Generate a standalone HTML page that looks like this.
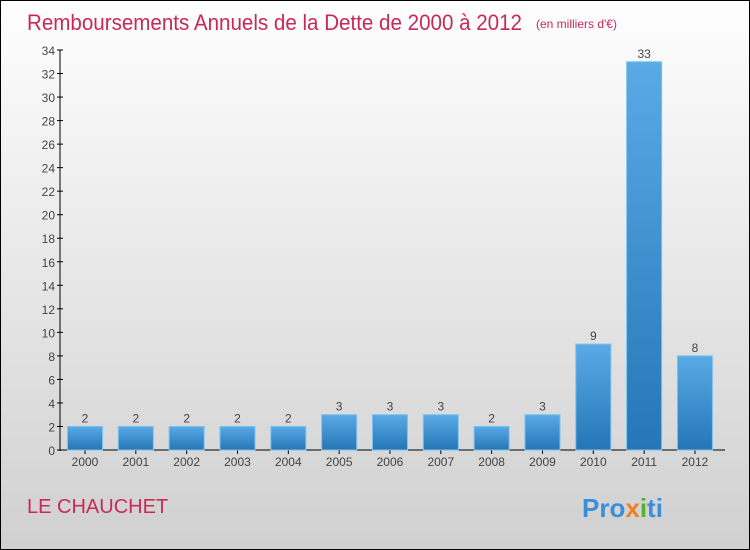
<!DOCTYPE html>
<html><head><meta charset="utf-8"><style>
body{margin:0;width:750px;height:550px;overflow:hidden;font-family:"Liberation Sans",sans-serif}
#wrap{position:absolute;left:0;top:0;width:748px;height:548px;border:1px solid #000;background:linear-gradient(#fefefe,#d0d0d0)}
</style></head><body>
<div id="wrap">
<svg id="chart" width="750" height="550" style="position:absolute;left:-1px;top:-1px">
<defs><linearGradient id="bg" x1="0" y1="0" x2="0" y2="1"><stop offset="0" stop-color="#5aaae6"/><stop offset="1" stop-color="#2476b6"/></linearGradient></defs>
<text x="27" y="30" font-size="22" fill="#c8285a" textLength="495" lengthAdjust="spacingAndGlyphs">Remboursements Annuels de la Dette de 2000 à 2012</text>
<text x="536" y="28" font-size="12" fill="#c8285a">(en milliers d'€)</text>
<text x="27" y="513" font-size="20" fill="#c8285a">LE CHAUCHET</text>
<text x="582" y="517" font-size="26" font-weight="bold"><tspan fill="#3a8fd8">Pro</tspan><tspan fill="#f08020">x</tspan><tspan fill="#58b030">i</tspan><tspan fill="#3a8fd8">ti</tspan></text>
<g id="axes"></g><g id="bars"></g>
</svg></div>
<script>
const categories=["2000","2001","2002","2003","2004","2005","2006","2007","2008","2009","2010","2011","2012"];
const values=[2,2,2,2,2,3,3,3,2,3,9,33,8];
const yTicks=[0,2,4,6,8,10,12,14,16,18,20,22,24,26,28,30,32,34];
const NS="http://www.w3.org/2000/svg";
const y0=450,yMax=34,h=400,x0=85,step=50.83,bw=35;
const ys=v=>y0-v/yMax*h, xs=i=>x0+i*step;
function mk(t,a,p){const e=document.createElementNS(NS,t);for(const k in a)e.setAttribute(k,a[k]);p.appendChild(e);return e;}
const ax=document.getElementById('axes'),bs=document.getElementById('bars');
let l=mk('line',{x1:60,y1:ys(yMax),x2:60,y2:y0+1,stroke:'#000'},ax);


l=mk('line',{x1:60,y1:y0,x2:725,y2:y0,stroke:'#000'},ax);


yTicks.forEach(v=>{
 mk('line',{x1:57,x2:63,y1:ys(v),y2:ys(v),stroke:'#000'},ax);
 const t=mk('text',{x:55,y:ys(v)+5,'font-size':12,fill:'#444','text-anchor':'end'},ax);
 t.textContent=v;
 
 
});
categories.forEach((c,i)=>{
 const v=values[i];
 const r=mk('rect',{x:xs(i)-bw/2,y:ys(v),width:bw,height:y0-ys(v),fill:'url(#bg)',stroke:'#7cc0f0','stroke-width':1},bs);
 
 
 const vt=mk('text',{x:xs(i),y:ys(v)-4,'font-size':12,fill:'#444','text-anchor':'middle'},bs);
 vt.textContent=v;
 
 
 mk('line',{x1:xs(i),x2:xs(i),y1:y0,y2:y0+4,stroke:'#000'},ax);
 const t=mk('text',{x:xs(i),y:y0+16,'font-size':12,fill:'#444','text-anchor':'middle'},ax);
 t.textContent=c;
 
 
});
</script></body></html>
